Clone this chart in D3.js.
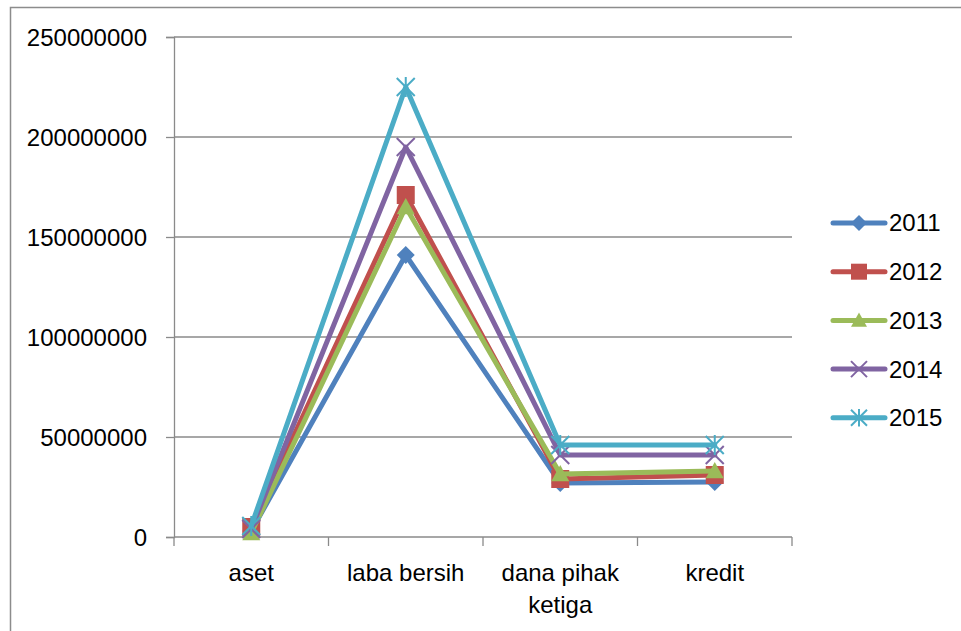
<!DOCTYPE html>
<html>
<head>
<meta charset="utf-8">
<script src="https://cdn.jsdelivr.net/npm/d3@7"></script>
<style>
  html, body { margin: 0; padding: 0; background: #fff; }
  svg { display: block; }
  text { font-family: "Liberation Sans", Arial, sans-serif; fill: #000; }
</style>
</head>
<body>
<svg id="chart" width="961" height="631"></svg>
<script>
// Indicators on the x axis
const categories = ["aset", "laba bersih", "dana pihak ketiga", "kredit"];
// Year series
const years = ["2011", "2012", "2013", "2014", "2015"];
const values2011 = [3000000, 141000000, 27000000, 27500000];
const values2012 = [5000000, 171000000, 29000000, 31000000];
const values2013 = [2000000, 165000000, 31500000, 33000000];
const values2014 = [4000000, 195000000, 41000000, 41000000];
const values2015 = [5500000, 225000000, 46000000, 46000000];
const yTicks = [0, 50000000, 100000000, 150000000, 200000000, 250000000];

const seriesValues = [values2011, values2012, values2013, values2014, values2015];
const colors = ["#4F81BD", "#C0504D", "#9BBB59", "#8064A2", "#4BACC6"];
const markers = ["diamond", "square", "triangle", "x", "star"];

const svg = d3.select("#chart");
const plot = { left: 174, right: 792, top: 37, bottom: 537 };
const fontSize = "24px";

// outer chart frame
svg.append("rect")
  .attr("x", 10.5).attr("y", 7.5)
  .attr("width", 970).attr("height", 650)
  .attr("fill", "none").attr("stroke", "#8c8c8c").attr("stroke-width", 1.5);

const x = d3.scaleBand().domain(categories).range([plot.left, plot.right]).padding(0);
const y = d3.scaleLinear().domain([0, 250000000]).range([plot.bottom, plot.top]);
const cx = c => x(c) + x.bandwidth() / 2;

// horizontal gridlines
svg.append("g").selectAll("line").data(yTicks.slice(1)).join("line")
  .attr("x1", plot.left).attr("x2", plot.right)
  .attr("y1", d => y(d)).attr("y2", d => y(d))
  .attr("stroke", "#8a8a8a").attr("stroke-width", 1.3);

// y axis
const yAxis = svg.append("g").attr("transform", `translate(${plot.left},0)`)
  .call(d3.axisLeft(y).tickValues(yTicks).tickFormat(d3.format("d")).tickSize(8).tickPadding(19));
yAxis.select(".domain").attr("stroke", "#8a8a8a").attr("stroke-width", 1.3);
yAxis.selectAll(".tick line").attr("stroke", "#8a8a8a").attr("stroke-width", 1.3);
yAxis.selectAll("text").style("font-size", fontSize).attr("dy", "0.35em");

// x axis with ticks on category boundaries
const xg = svg.append("g").attr("transform", `translate(0,${plot.bottom})`);
xg.append("line").attr("x1", plot.left).attr("x2", plot.right)
  .attr("stroke", "#8a8a8a").attr("stroke-width", 1.3);
const bounds = categories.map(c => x(c)).concat([plot.right]);
xg.selectAll("line.tk").data(bounds).join("line").attr("class", "tk")
  .attr("x1", d => d).attr("x2", d => d).attr("y1", 0).attr("y2", 9)
  .attr("stroke", "#8a8a8a").attr("stroke-width", 1.3);

// category labels, wrapped where the label is long
const wraps = { "dana pihak ketiga": ["dana pihak", "ketiga"] };
categories.forEach(c => {
  const lines = wraps[c] || [c];
  const t = xg.append("text").attr("text-anchor", "middle").style("font-size", fontSize)
    .attr("x", cx(c)).attr("y", 44);
  lines.forEach((l, i) => t.append("tspan").attr("x", cx(c)).attr("dy", i === 0 ? 0 : 32).text(l));
});

// marker drawing
function drawMarker(g, type, color, px, py, s) {
  if (type === "diamond") {
    g.append("path").attr("d", `M${px},${py - s}L${px + s},${py}L${px},${py + s}L${px - s},${py}Z`)
      .attr("fill", color);
  } else if (type === "square") {
    g.append("rect").attr("x", px - s).attr("y", py - s).attr("width", 2 * s).attr("height", 2 * s)
      .attr("fill", color);
  } else if (type === "triangle") {
    g.append("path").attr("d", `M${px},${py - s}L${px + s},${py + s * 0.8}L${px - s},${py + s * 0.8}Z`)
      .attr("fill", color);
  } else if (type === "x") {
    g.append("path").attr("d", `M${px - s},${py - s}L${px + s},${py + s}M${px - s},${py + s}L${px + s},${py - s}`)
      .attr("stroke", color).attr("stroke-width", 2).attr("fill", "none");
  } else if (type === "star") {
    g.append("path").attr("d", `M${px - s},${py - s}L${px + s},${py + s}M${px - s},${py + s}L${px + s},${py - s}M${px},${py - s * 1.1}L${px},${py + s * 1.1}`)
      .attr("stroke", color).attr("stroke-width", 2).attr("fill", "none");
  }
}

const line = d3.line().x((d, i) => cx(categories[i])).y(d => y(d));

seriesValues.forEach((vals, k) => {
  const g = svg.append("g");
  g.append("path").datum(vals).attr("d", line)
    .attr("fill", "none").attr("stroke", colors[k]).attr("stroke-width", 5)
    .attr("stroke-linejoin", "round").attr("stroke-linecap", "round");
  vals.forEach((v, i) => drawMarker(g, markers[k], colors[k], cx(categories[i]), y(v), 9));
});

// legend
const legend = svg.append("g");
years.forEach((yr, k) => {
  const ly = 223 + k * 48.7;
  const g = legend.append("g");
  g.append("line").attr("x1", 833).attr("x2", 885).attr("y1", ly).attr("y2", ly)
    .attr("stroke", colors[k]).attr("stroke-width", 5).attr("stroke-linecap", "round");
  drawMarker(g, markers[k], colors[k], 859, ly, 8);
  g.append("text").attr("x", 889).attr("y", ly).attr("dy", "0.35em")
    .style("font-size", fontSize).text(yr);
});
</script>
</body>
</html>
